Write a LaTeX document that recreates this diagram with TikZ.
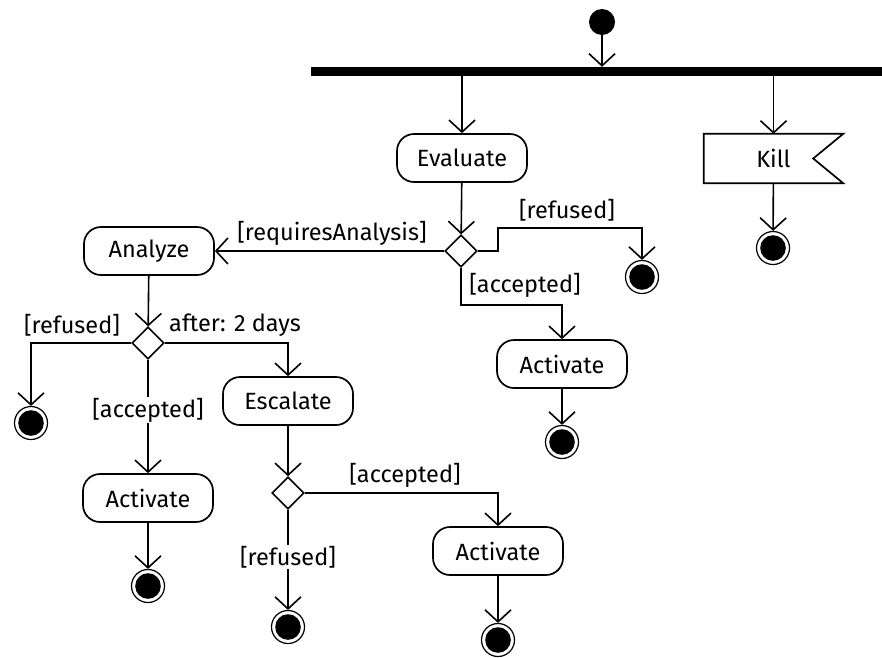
\documentclass[tikz,border=0pt]{standalone}
\usepackage{fontspec}
\setmainfont{Fira Sans}
\usetikzlibrary{arrows.meta,shapes.geometric,calc}
\begin{document}
\begin{tikzpicture}[x=1pt,y=-1pt,
  font=\fontsize{23.5}{28}\selectfont,
  flow/.style={line width=1.6pt, -{Straight Barb[length=12pt,width=26pt]}},
  plain/.style={line width=1.6pt},
  action/.style={draw, line width=1.7pt, rounded corners=17pt,
    minimum width=130pt, minimum height=48pt, inner sep=0pt},
  choice/.style={draw, diamond, line width=1.6pt, minimum width=32pt,
    minimum height=32pt, inner sep=0pt},
  final/.style={circle, draw, line width=1.2pt, minimum size=33pt, inner sep=0pt,
    path picture={\fill (path picture bounding box.center) circle (12.8pt);}},
  start/.style={circle, fill, minimum size=26pt, inner sep=0pt},
  guard/.style={inner sep=1pt},
]
\useasboundingbox (0,0) rectangle (882,657);

% start and fork bar
\node[start] (init) at (602,22) {};
\node[fill, minimum width=571pt, minimum height=9pt, inner sep=0pt] (bar) at (596.5,71.5) {};

% actions
\node[action] (evaluate) at (462,158) {Evaluate};
\node[action] (analyze)  at (149,251) {Analyze};
\node[action] (act2)     at (562,364) {Activate};
\node[action] (escalate) at (288,401) {Escalate};
\node[action] (act1)     at (148,498) {Activate};
\node[action] (act3)     at (498,551) {Activate};

% send-signal action
\node[minimum width=139pt, minimum height=49pt, inner sep=0pt] (kill) at (773.5,158.5) {Kill};
\draw[line width=1.7pt] (kill.north west) -- (kill.north east)
  -- ($(kill.east)+(-30,0)$) -- (kill.south east) -- (kill.south west) -- cycle;

% decisions
\node[choice] (d1) at (461,251) {};
\node[choice] (d2) at (148,343) {};
\node[choice] (d3) at (288,493) {};

% final nodes
\node[final] (fin1) at (773,248) {};
\node[final] (fin2) at (642,277) {};
\node[final] (fin3) at (562,442) {};
\node[final] (fin4) at (31,423) {};
\node[final] (fin5) at (148,586) {};
\node[final] (fin6) at (498,640) {};
\node[final] (fin7) at (288,627) {};

% guards
\node[guard] (g1) at (567,210) {[refused]};
\node[guard] (g2) at (525,285) {[accepted]};
\node[guard] (g3) at (332,233) {[requiresAnalysis]};
\node[guard] (g4) at (72,325) {[refused]};
\node[guard] (g5) at (235,325) {after: 2 days};
\node[guard] (g6) at (148,410) {[accepted]};
\node[guard] (g7) at (405,475) {[accepted]};
\node[guard] (g8) at (288,557) {[refused]};

% flows
\draw[flow] (init) -- (init |- bar.north);
\draw[flow] (evaluate |- bar.south) -- (evaluate);
\draw[flow] (kill |- bar.south) -- (kill.north);
\draw[flow] (kill) -- (fin1);
\draw[flow] (evaluate) -- (d1);
\draw[flow] (d1) -- (analyze);
\draw[flow] (d1.east) -- ++(20,0) -- ++(0,-23) -| (fin2);
\draw[flow] (d1.south) -- ++(0,37) -| (act2);
\draw[flow] (act2) -- (fin3);
\draw[flow] (analyze) -- (d2);
\draw[flow] (d2.west) -| (fin4);
\draw[flow] (d2.east) -| (escalate);
\draw[plain] (d2.south) -- (g6);
\draw[flow] (g6) -- (act1);
\draw[flow] (act1) -- (fin5);
\draw[flow] (escalate) -- (d3);
\draw[flow] (d3.east) -| (act3);
\draw[flow] (act3) -- (fin6);
\draw[plain] (d3.south) -- (g8);
\draw[flow] (g8) -- (fin7);
\end{tikzpicture}
\end{document}
